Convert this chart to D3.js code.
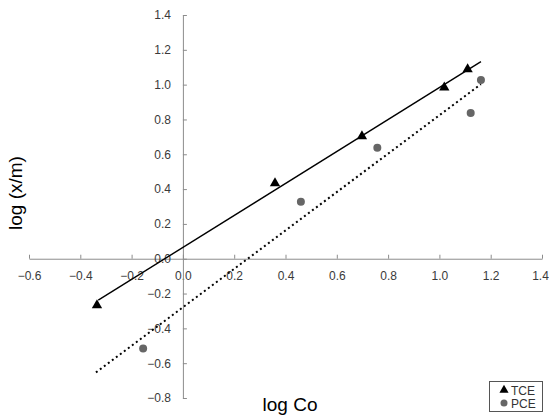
<!DOCTYPE html>
<html>
<head>
<meta charset="utf-8">
<script src="https://cdn.jsdelivr.net/npm/d3@7"></script>
<style>
  html, body { margin: 0; padding: 0; background: #fff; }
  svg { display: block; font-family: "Liberation Sans", Arial, sans-serif; }
</style>
</head>
<body>
<svg id="chart" width="549" height="416"></svg>
<script>
// Freundlich isotherm data: log Co vs log (x/m)
const tceX = [-0.335, 0.359, 0.698, 1.019, 1.110];
const tceY = [-0.267, 0.434, 0.704, 0.984, 1.088];
const pceX = [-0.155, 0.460, 0.758, 1.122, 1.162];
const pceY = [-0.516, 0.327, 0.637, 0.837, 1.026];

// Linear trend line end points
const tceFitX = [-0.330, 1.162];
const tceFitY = [-0.238, 1.132];
const pceFitX = [-0.339, 1.162];
const pceFitY = [-0.653, 1.003];

const xTicks = [-0.6, -0.4, -0.2, 0.0, 0.2, 0.4, 0.6, 0.8, 1.0, 1.2, 1.4];
const yTicks = [-0.8, -0.6, -0.4, -0.2, 0.0, 0.2, 0.4, 0.6, 0.8, 1.0, 1.2, 1.4];
const seriesNames = ["TCE", "PCE"];

const svg = d3.select("#chart");
const x = d3.scaleLinear().domain([-0.6, 1.4]).range([29, 542]);
const y = d3.scaleLinear().domain([-0.8, 1.4]).range([398, 15]);
const fmt = d3.format(".1f");

// Axes cross at the origin
const xAxis = svg.append("g")
  .attr("transform", `translate(0,${y(0)})`)
  .call(d3.axisBottom(x).tickValues(xTicks).tickFormat(fmt)
    .tickSizeInner(-4).tickSizeOuter(0).tickPadding(13));
const yAxis = svg.append("g")
  .attr("transform", `translate(${x(0)},0)`)
  .call(d3.axisLeft(y).tickValues(yTicks).tickFormat(fmt)
    .tickSizeInner(-4).tickSizeOuter(0).tickPadding(12));

[xAxis, yAxis].forEach(g => {
  g.select(".domain").attr("stroke", "#8c8c8c");
  g.selectAll(".tick line").attr("stroke", "#8c8c8c");
  g.selectAll(".tick text")
    .attr("fill", "#3a3a3a")
    .style("font-size", "12px")
    .style("font-family", "'Liberation Sans', Arial, sans-serif");
});
// keep the last x label inside the frame
xAxis.selectAll(".tick text").filter(d => d === xTicks[xTicks.length - 1])
  .attr("dx", -2);

// Trend lines
const line = d3.line().x(d => x(d[0])).y(d => y(d[1]));
svg.append("path")
  .datum(d3.zip(tceFitX, tceFitY))
  .attr("d", line)
  .attr("fill", "none")
  .attr("stroke", "#000")
  .attr("stroke-width", 1.4);
svg.append("path")
  .datum(d3.zip(pceFitX, pceFitY))
  .attr("d", line)
  .attr("fill", "none")
  .attr("stroke", "#000")
  .attr("stroke-width", 2)
  .attr("stroke-dasharray", "2,3");

// Markers
const tri = d3.symbol().type(d3.symbolTriangle).size(46);
svg.append("g").selectAll("path")
  .data(d3.zip(tceX, tceY))
  .join("path")
  .attr("d", tri)
  .attr("transform", d => `translate(${x(d[0])},${y(d[1])})`)
  .attr("fill", "#000");
svg.append("g").selectAll("circle")
  .data(d3.zip(pceX, pceY))
  .join("circle")
  .attr("cx", d => x(d[0]))
  .attr("cy", d => y(d[1]))
  .attr("r", 4)
  .attr("fill", "#666");

// Axis titles
svg.append("text")
  .attr("x", 290).attr("y", 411)
  .attr("text-anchor", "middle")
  .style("font-size", "19px")
  .attr("fill", "#000")
  .text("log Co");
svg.append("text")
  .attr("transform", "translate(22,193) rotate(-90)")
  .attr("text-anchor", "middle")
  .style("font-size", "19px")
  .attr("fill", "#000")
  .text("log (x/m)");

// Legend
const legend = svg.append("g");
legend.append("rect")
  .attr("x", 489.5).attr("y", 381.5)
  .attr("width", 53).attr("height", 30)
  .attr("fill", "#fff")
  .attr("stroke", "#555");
legend.append("path")
  .attr("d", d3.symbol().type(d3.symbolTriangle).size(36))
  .attr("transform", "translate(504,390)")
  .attr("fill", "#000");
legend.append("circle")
  .attr("cx", 504).attr("cy", 403).attr("r", 3.5)
  .attr("fill", "#666");
legend.selectAll("text")
  .data(seriesNames)
  .join("text")
  .attr("x", 511)
  .attr("y", (d, i) => 394.5 + i * 13)
  .style("font-size", "12px")
  .attr("fill", "#333")
  .text(d => d);
</script>
</body>
</html>
